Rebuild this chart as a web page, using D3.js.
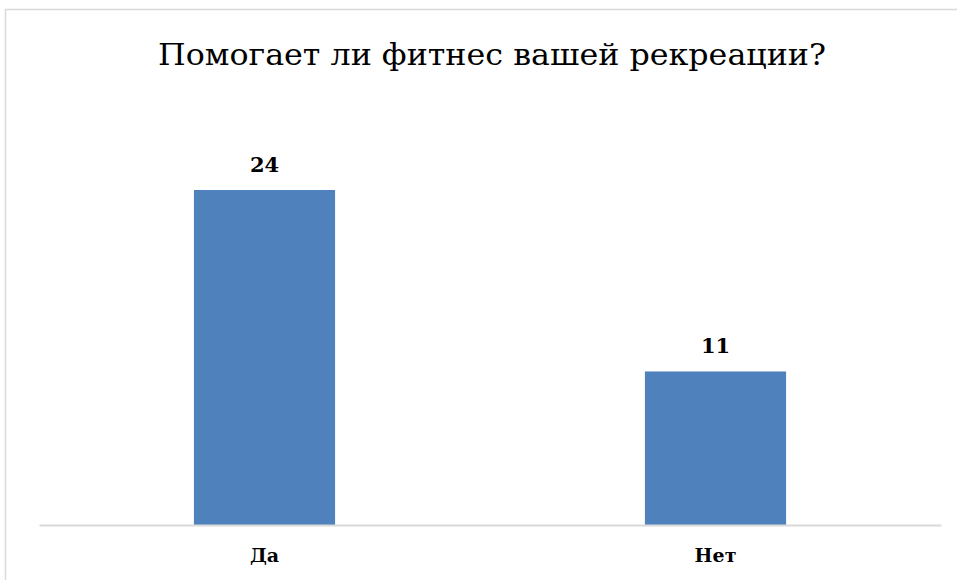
<!DOCTYPE html>
<html>
<head>
<meta charset="utf-8">
<script src="https://cdn.jsdelivr.net/npm/d3@7"></script>
<style>
  html, body { margin: 0; padding: 0; background: #fff; }
  svg { display: block; }
</style>
</head>
<body>
<div id="chart"></div>
<script>
const categories = ['Да', 'Нет'];
const values = [24, 11];
const title = 'Помогает ли фитнес вашей рекреации?';

const W = 957, H = 580;
const font = '"DejaVu Serif", "Liberation Serif", serif';

const svg = d3.select('#chart').append('svg')
  .attr('width', W)
  .attr('height', H);

// chart frame (cropped at right/bottom like the reference)
svg.append('rect')
  .attr('x', 5.5).attr('y', 9.5)
  .attr('width', W + 20).attr('height', H + 20)
  .attr('fill', '#fff')
  .attr('stroke', '#d9d9d9')
  .attr('stroke-width', 1.5);

svg.append('text')
  .attr('x', 492).attr('y', 65)
  .attr('text-anchor', 'middle')
  .attr('textLength', 668)
  .attr('lengthAdjust', 'spacingAndGlyphs')
  .style('font-family', font)
  .style('font-size', '30px')
  .style('fill', '#000')
  .text(title);

const x = d3.scaleBand()
  .domain(categories)
  .range([39, 941])
  .paddingInner(0.687)
  .paddingOuter(0.3435);

const y = d3.scaleLinear()
  .domain([0, 24])
  .range([525, 190]);

const data = categories.map((c, i) => ({ cat: c, val: values[i] }));

// bars
svg.selectAll('.bar')
  .data(data)
  .join('rect')
    .attr('class', 'bar')
    .attr('x', d => x(d.cat))
    .attr('y', d => y(d.val))
    .attr('width', x.bandwidth())
    .attr('height', d => y(0) - y(d.val))
    .attr('fill', '#4f81bd');

// x axis
svg.append('g')
  .attr('transform', `translate(0,${y(0)})`)
  .call(d3.axisBottom(x).tickSize(0).tickPadding(24))
  .call(g => g.select('.domain').attr('stroke', '#d9d9d9').attr('stroke-width', 2))
  .selectAll('text')
    .style('font-family', font)
    .style('font-weight', 'bold')
    .style('font-size', '19px')
    .style('fill', '#000');

// value labels
svg.selectAll('.lbl')
  .data(data)
  .join('text')
    .attr('class', 'lbl')
    .attr('x', d => x(d.cat) + x.bandwidth() / 2)
    .attr('y', d => y(d.val) - 18)
    .attr('text-anchor', 'middle')
    .style('font-family', font)
    .style('font-weight', 'bold')
    .style('font-size', '21px')
    .style('fill', '#000')
    .text(d => d.val);
</script>
</body>
</html>
